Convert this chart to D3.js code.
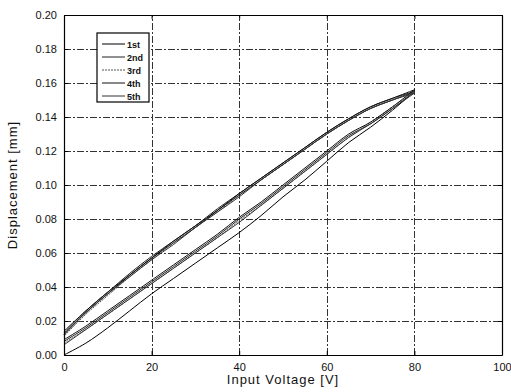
<!DOCTYPE html>
<html>
<head>
<meta charset="utf-8">
<script src="https://cdn.jsdelivr.net/npm/d3@7"></script>
<style>
  html, body { margin: 0; padding: 0; background: #fff; }
  svg { display: block; }
  text { font-family: "Liberation Sans", Arial, sans-serif; fill: #111; }
</style>
</head>
<body>
<div id="chart"></div>
<script>
// Voltage samples (V) for each half cycle
const voltageUp = [0, 5, 10, 15, 20, 25, 30, 35, 40, 45, 50, 55, 60, 65, 70, 75, 80];
const voltageDown = [80, 75, 70, 65, 60, 55, 50, 45, 40, 35, 30, 25, 20, 15, 10, 5, 0];

// Displacement (mm) per cycle: rising branch then falling branch
const cycle1Up   = [0.000, 0.007, 0.016, 0.026, 0.036, 0.045, 0.054, 0.063, 0.072, 0.082, 0.093, 0.103, 0.114, 0.125, 0.134, 0.144, 0.155];
const cycle1Down = [0.155, 0.150, 0.145, 0.138, 0.130, 0.121, 0.112, 0.103, 0.094, 0.085, 0.075, 0.066, 0.057, 0.047, 0.036, 0.025, 0.012];
const cycle2Up   = [0.008, 0.016, 0.025, 0.034, 0.043, 0.052, 0.061, 0.070, 0.080, 0.089, 0.099, 0.109, 0.119, 0.129, 0.136, 0.145, 0.155];
const cycle2Down = [0.155, 0.151, 0.146, 0.139, 0.131, 0.122, 0.113, 0.104, 0.095, 0.086, 0.076, 0.067, 0.058, 0.048, 0.037, 0.026, 0.013];
const cycle3Up   = [0.007, 0.015, 0.024, 0.033, 0.042, 0.051, 0.060, 0.069, 0.079, 0.088, 0.098, 0.108, 0.118, 0.128, 0.137, 0.146, 0.155];
const cycle3Down = [0.155, 0.150, 0.145, 0.138, 0.130, 0.121, 0.112, 0.103, 0.094, 0.084, 0.075, 0.066, 0.056, 0.046, 0.035, 0.024, 0.011];
const cycle4Up   = [0.009, 0.017, 0.026, 0.035, 0.044, 0.053, 0.062, 0.071, 0.081, 0.090, 0.100, 0.110, 0.120, 0.130, 0.137, 0.146, 0.156];
const cycle4Down = [0.156, 0.151, 0.146, 0.139, 0.131, 0.122, 0.113, 0.104, 0.095, 0.085, 0.076, 0.067, 0.057, 0.047, 0.037, 0.026, 0.014];
const cycle5Up   = [0.006, 0.015, 0.024, 0.033, 0.042, 0.051, 0.060, 0.069, 0.078, 0.088, 0.098, 0.108, 0.118, 0.128, 0.136, 0.145, 0.154];
const cycle5Down = [0.154, 0.150, 0.145, 0.138, 0.130, 0.121, 0.112, 0.103, 0.093, 0.084, 0.075, 0.065, 0.056, 0.046, 0.036, 0.025, 0.012];

const seriesNames = ["1st", "2nd", "3rd", "4th", "5th"];
const xTicks = [0, 20, 40, 60, 80, 100];
const yTicks = [0, 0.02, 0.04, 0.06, 0.08, 0.10, 0.12, 0.14, 0.16, 0.18, 0.20];

const ups = [cycle1Up, cycle2Up, cycle3Up, cycle4Up, cycle5Up];
const downs = [cycle1Down, cycle2Down, cycle3Down, cycle4Down, cycle5Down];
const cycles = seriesNames.map((name, i) => ({
  name,
  points: voltageUp.map((v, j) => [v, ups[i][j]])
    .concat(voltageDown.map((v, j) => [v, downs[i][j]]))
}));

const styles = [
  { color: "#000", dash: null, width: 1 },
  { color: "#222", dash: null, width: 1 },
  { color: "#555", dash: "2,1", width: 1 },
  { color: "#111", dash: null, width: 1 },
  { color: "#333", dash: null, width: 1 }
];

const W = 511, H = 392;
const margin = { left: 64, right: 9, top: 15, bottom: 37 };

const svg = d3.select("#chart").append("svg")
  .attr("width", W).attr("height", H);

const x = d3.scaleLinear().domain([0, 100]).range([margin.left, W - margin.right]);
const y = d3.scaleLinear().domain([0, 0.20]).range([H - margin.bottom, margin.top]);

// grid
const grid = svg.append("g").attr("stroke", "#333").attr("stroke-width", 1)
  .attr("stroke-dasharray", "7,2,2,2").attr("fill", "none");
grid.selectAll("line.gx").data(xTicks.slice(1, -1)).join("line")
  .attr("x1", d => Math.round(x(d)) + 0.5).attr("x2", d => Math.round(x(d)) + 0.5)
  .attr("y1", y(0)).attr("y2", y(0.20));
grid.selectAll("line.gy").data(yTicks.slice(1, -1)).join("line")
  .attr("y1", d => Math.round(y(d)) + 0.5).attr("y2", d => Math.round(y(d)) + 0.5)
  .attr("x1", x(0)).attr("x2", x(100));

// curves
const line = d3.line().x(d => x(d[0])).y(d => y(d[1])).curve(d3.curveMonotoneX);
const lineAny = d3.line().x(d => x(d[0])).y(d => y(d[1])).curve(d3.curveCatmullRom.alpha(0.5));
svg.append("g").selectAll("path").data(cycles).join("path")
  .attr("d", d => lineAny(d.points))
  .attr("fill", "none")
  .attr("stroke", (d, i) => styles[i].color)
  .attr("stroke-width", (d, i) => styles[i].width)
  .attr("stroke-dasharray", (d, i) => styles[i].dash);

// axes with inward ticks
const xAxisB = d3.axisBottom(x).tickValues(xTicks).tickSizeInner(-4).tickSizeOuter(0).tickPadding(8)
  .tickFormat(d3.format("d"));
const xAxisT = d3.axisTop(x).tickValues(xTicks).tickSizeInner(-4).tickSizeOuter(0).tickFormat("");
const yAxisL = d3.axisLeft(y).tickValues(yTicks).tickSizeInner(-4).tickSizeOuter(0).tickPadding(7)
  .tickFormat(d3.format(".2f"));
const yAxisR = d3.axisRight(y).tickValues(yTicks).tickSizeInner(-4).tickSizeOuter(0).tickFormat("");

function styleAxis(g) {
  g.select(".domain").attr("stroke", "#000").attr("stroke-width", 1.2);
  g.selectAll(".tick line").attr("stroke", "#000");
  g.selectAll(".tick text").attr("font-size", 11).attr("fill", "#111")
    .attr("font-family", "'Liberation Sans', Arial, sans-serif");
}
svg.append("g").attr("transform", `translate(0,${y(0)})`).call(xAxisB).call(styleAxis);
svg.append("g").attr("transform", `translate(0,${y(0.20)})`).call(xAxisT).call(styleAxis);
svg.append("g").attr("transform", `translate(${x(0)},0)`).call(yAxisL).call(styleAxis);
svg.append("g").attr("transform", `translate(${x(100)},0)`).call(yAxisR).call(styleAxis);

// axis titles
svg.append("text")
  .attr("x", (x(0) + x(100)) / 2).attr("y", 384)
  .attr("text-anchor", "middle").attr("font-size", 13).attr("letter-spacing", 1)
  .text("Input Voltage [V]");
svg.append("text")
  .attr("transform", `translate(17,${(y(0) + y(0.2)) / 2}) rotate(-90)`)
  .attr("text-anchor", "middle").attr("font-size", 13).attr("letter-spacing", 1)
  .text("Displacement [mm]");

// legend
const lg = svg.append("g").attr("transform", "translate(97,33)");
lg.append("rect").attr("width", 52).attr("height", 69)
  .attr("fill", "#fff").attr("stroke", "#000").attr("stroke-width", 1.2);
const item = lg.selectAll("g.item").data(seriesNames).join("g")
  .attr("transform", (d, i) => `translate(0,${11 + i * 13})`);
item.append("line").attr("x1", 5).attr("x2", 28).attr("y1", 0).attr("y2", 0)
  .attr("stroke", (d, i) => styles[i].color)
  .attr("stroke-dasharray", (d, i) => styles[i].dash);
item.append("text").attr("x", 30).attr("y", 3.5).attr("font-size", 9).attr("font-weight", "bold")
  .text(d => d);
</script>
</body>
</html>
